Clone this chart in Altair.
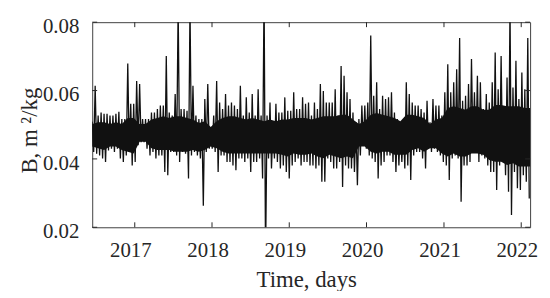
import altair as alt
import pandas as pd

# Upper and lower excursions of the ballistic coefficient
# (one pair per ~14 days, from mid-June 2016 to February 2022)
tops = [
    0.0509, 0.0614, 0.0527, 0.0536, 0.0532, 0.0532, 0.0527, 0.0527, 0.0532, 0.0538,
    0.0517, 0.0517, 0.0679, 0.0561, 0.0561, 0.0628, 0.0619, 0.0517, 0.0517, 0.0517,
    0.0536, 0.0536, 0.0546, 0.0556, 0.0556, 0.0701, 0.0536, 0.0527, 0.0590, 0.0850,
    0.0546, 0.0546, 0.0541, 0.0850, 0.0614, 0.0527, 0.0517, 0.0517, 0.0575, 0.0619,
    0.0488, 0.0527, 0.0628, 0.0565, 0.0546, 0.0590, 0.0556, 0.0565, 0.0556, 0.0546,
    0.0614, 0.0527, 0.0580, 0.0536, 0.0590, 0.0527, 0.0604, 0.0527, 0.0900, 0.0527,
    0.0565, 0.0488, 0.0561, 0.0536, 0.0536, 0.0580, 0.0541, 0.0541, 0.0595, 0.0546,
    0.0546, 0.0580, 0.0561, 0.0565, 0.0527, 0.0565, 0.0546, 0.0619, 0.0599, 0.0565,
    0.0565, 0.0565, 0.0604, 0.0527, 0.0672, 0.0643, 0.0595, 0.0575, 0.0536, 0.0507,
    0.0517, 0.0556, 0.0556, 0.0565, 0.0761, 0.0585, 0.0624, 0.0546, 0.0585, 0.0575,
    0.0580, 0.0595, 0.0536, 0.0517, 0.0498, 0.0507, 0.0624, 0.0590, 0.0565, 0.0556,
    0.0556, 0.0546, 0.0536, 0.0570, 0.0507, 0.0575, 0.0556, 0.0556, 0.0527, 0.0595,
    0.0677, 0.0595, 0.0624, 0.0662, 0.0754, 0.0570, 0.0585, 0.0619, 0.0692, 0.0595,
    0.0643, 0.0624, 0.0546, 0.0590, 0.0565, 0.0624, 0.0711, 0.0604, 0.0701, 0.0527,
    0.0638, 0.0850, 0.0609, 0.0687, 0.0575, 0.0653, 0.0604, 0.0754,
]
bottoms = [
    0.0420, 0.0415, 0.0410, 0.0401, 0.0391, 0.0425, 0.0430, 0.0420, 0.0430, 0.0401,
    0.0391, 0.0410, 0.0420, 0.0381, 0.0391, 0.0440, 0.0449, 0.0449, 0.0430, 0.0410,
    0.0420, 0.0401, 0.0410, 0.0410, 0.0362, 0.0352, 0.0420, 0.0420, 0.0410, 0.0391,
    0.0420, 0.0415, 0.0343, 0.0410, 0.0420, 0.0410, 0.0401, 0.0263, 0.0420, 0.0430,
    0.0430, 0.0420, 0.0362, 0.0410, 0.0410, 0.0391, 0.0391, 0.0381, 0.0367, 0.0401,
    0.0401, 0.0391, 0.0401, 0.0362, 0.0391, 0.0391, 0.0401, 0.0343, 0.0100, 0.0401,
    0.0372, 0.0401, 0.0391, 0.0372, 0.0381, 0.0362, 0.0343, 0.0381, 0.0391, 0.0401,
    0.0381, 0.0391, 0.0391, 0.0381, 0.0381, 0.0372, 0.0381, 0.0333, 0.0333, 0.0401,
    0.0391, 0.0372, 0.0372, 0.0391, 0.0318, 0.0381, 0.0372, 0.0372, 0.0362, 0.0323,
    0.0410, 0.0440, 0.0430, 0.0410, 0.0401, 0.0391, 0.0343, 0.0381, 0.0391, 0.0410,
    0.0410, 0.0391, 0.0362, 0.0381, 0.0391, 0.0372, 0.0381, 0.0338, 0.0410, 0.0420,
    0.0420, 0.0401, 0.0372, 0.0430, 0.0420, 0.0430, 0.0420, 0.0410, 0.0391, 0.0381,
    0.0338, 0.0401, 0.0410, 0.0401, 0.0275, 0.0381, 0.0381, 0.0391, 0.0430, 0.0420,
    0.0391, 0.0410, 0.0401, 0.0381, 0.0362, 0.0362, 0.0309, 0.0381, 0.0391, 0.0352,
    0.0304, 0.0236, 0.0362, 0.0314, 0.0309, 0.0352, 0.0333, 0.0284,
]
# Dense (solid) core of the daily series, read every 4 weeks
core_hi = [
    0.0502, 0.0507, 0.0507, 0.0502, 0.0507, 0.0502, 0.0520, 0.0520, 0.0502, 0.0502,
    0.0515, 0.0520, 0.0525, 0.0520, 0.0525, 0.0525, 0.0520, 0.0515, 0.0505, 0.0510,
    0.0493, 0.0510, 0.0520, 0.0525, 0.0525, 0.0520, 0.0515, 0.0520, 0.0515, 0.0510,
    0.0515, 0.0510, 0.0515, 0.0515, 0.0520, 0.0520, 0.0520, 0.0515, 0.0520, 0.0525,
    0.0525, 0.0525, 0.0529, 0.0529, 0.0515, 0.0502, 0.0510, 0.0529, 0.0534, 0.0529,
    0.0525, 0.0520, 0.0510, 0.0529, 0.0529, 0.0525, 0.0520, 0.0502, 0.0515, 0.0520,
    0.0549, 0.0554, 0.0549, 0.0544, 0.0554, 0.0554, 0.0544, 0.0544, 0.0558, 0.0558,
    0.0554, 0.0554, 0.0554, 0.0549, 0.0549,
]
core_lo = [
    0.0436, 0.0431, 0.0426, 0.0436, 0.0436, 0.0426, 0.0421, 0.0416, 0.0450, 0.0450,
    0.0431, 0.0426, 0.0426, 0.0426, 0.0421, 0.0421, 0.0421, 0.0426, 0.0421, 0.0426,
    0.0436, 0.0431, 0.0421, 0.0416, 0.0416, 0.0416, 0.0416, 0.0416, 0.0416, 0.0416,
    0.0416, 0.0416, 0.0412, 0.0407, 0.0416, 0.0412, 0.0412, 0.0416, 0.0407, 0.0402,
    0.0412, 0.0407, 0.0402, 0.0407, 0.0402, 0.0436, 0.0436, 0.0421, 0.0416, 0.0421,
    0.0421, 0.0412, 0.0412, 0.0412, 0.0426, 0.0431, 0.0421, 0.0431, 0.0431, 0.0416,
    0.0407, 0.0416, 0.0407, 0.0407, 0.0416, 0.0416, 0.0412, 0.0397, 0.0392, 0.0392,
    0.0382, 0.0387, 0.0378, 0.0378, 0.0378,
]
year_ticks = [2017, 2018, 2019, 2020, 2021, 2022]
y_ticks = [0.02, 0.04, 0.06, 0.08]

values = []
for t, b in zip(tops, bottoms):
    values += [t, b]
dates = pd.date_range("2016-06-14", periods=len(values), freq="7D")
df = pd.DataFrame({"date": dates, "B": values})
core = pd.DataFrame({
    "date": pd.date_range("2016-06-14", periods=len(core_hi), freq="28D"),
    "hi": core_hi, "lo": core_lo,
})
xt = pd.DataFrame({"date": pd.to_datetime([f"{y}-01-01" for y in year_ticks]),
                   "label": [str(y) for y in year_ticks]})
yt = pd.DataFrame({"B": y_ticks, "label": [f"{v:.2f}" for v in y_ticks]})

W, H = 442, 207
AX = "#262626"
FONT = "Liberation Serif"

x_scale = alt.Scale(domain=[alt.DateTime(year=2016, month=6, date=14),
                            alt.DateTime(year=2022, month=2, date=12)])
y_scale = alt.Scale(domain=[0.02, 0.08], nice=False, zero=False)

band = alt.Chart(core).mark_area(color="#111111", clip=True).encode(
    x=alt.X("date:T", scale=x_scale, axis=None),
    y=alt.Y("hi:Q", scale=y_scale, axis=None),
    y2="lo:Q",
)

line = alt.Chart(df).mark_line(color="#111111", strokeWidth=1.3, clip=True).encode(
    x=alt.X("date:T", scale=x_scale,
            axis=alt.Axis(values=[alt.DateTime(year=y, month=1, date=1) for y in year_ticks],
                          labels=False, title="Time, days",
                          titleX=216, titleY=60, titleBaseline="alphabetic")),
    y=alt.Y("B:Q", scale=y_scale,
            axis=alt.Axis(values=y_ticks, labels=False, title="B, m ²/kg",
                          titleX=-56, titleY=109, titleBaseline="alphabetic",
                          titleAngle=270)),
)

TK = 5
tick_bottom = alt.Chart(xt).mark_rule(color=AX, strokeWidth=1).encode(
    x=alt.X("date:T", axis=None), y=alt.value(H), y2=alt.value(H - TK))
tick_top = alt.Chart(xt).mark_rule(color=AX, strokeWidth=1).encode(
    x=alt.X("date:T", axis=None), y=alt.value(0), y2=alt.value(TK))
tick_left = alt.Chart(yt).mark_rule(color=AX, strokeWidth=1).encode(
    y=alt.Y("B:Q", axis=None), x=alt.value(0), x2=alt.value(TK))
tick_right = alt.Chart(yt).mark_rule(color=AX, strokeWidth=1).encode(
    y=alt.Y("B:Q", axis=None), x=alt.value(W), x2=alt.value(W - TK))

xlab = alt.Chart(xt).mark_text(font=FONT, fontSize=21, color=AX, align="center",
                               baseline="alphabetic", dx=-4).encode(
    x=alt.X("date:T", axis=None), y=alt.value(H + 30), text="label:N")
ylab = alt.Chart(yt).mark_text(font=FONT, fontSize=21, color=AX, align="right",
                               baseline="middle", dy=5).encode(
    y=alt.Y("B:Q", axis=None), x=alt.value(-13), text="label:N")

chart = alt.layer(line, band, tick_bottom, tick_top, tick_left, tick_right,
                  xlab, ylab).resolve_axis(
    x="independent", y="independent"
).properties(
    width=W, height=H,
    autosize=alt.AutoSizeParams(type="none"),
    padding={"left": 85, "top": 13, "right": 12, "bottom": 63},
    background="white",
).configure(
    font=FONT,
).configure_view(
    stroke="#404040", strokeWidth=1
).configure_axis(
    titleFont=FONT, titleFontSize=23, titleColor=AX, titleFontWeight="normal",
    ticks=False, domain=False, grid=False,
)

chart.save("out.html", embed_options={"renderer": "svg", "actions": False})
